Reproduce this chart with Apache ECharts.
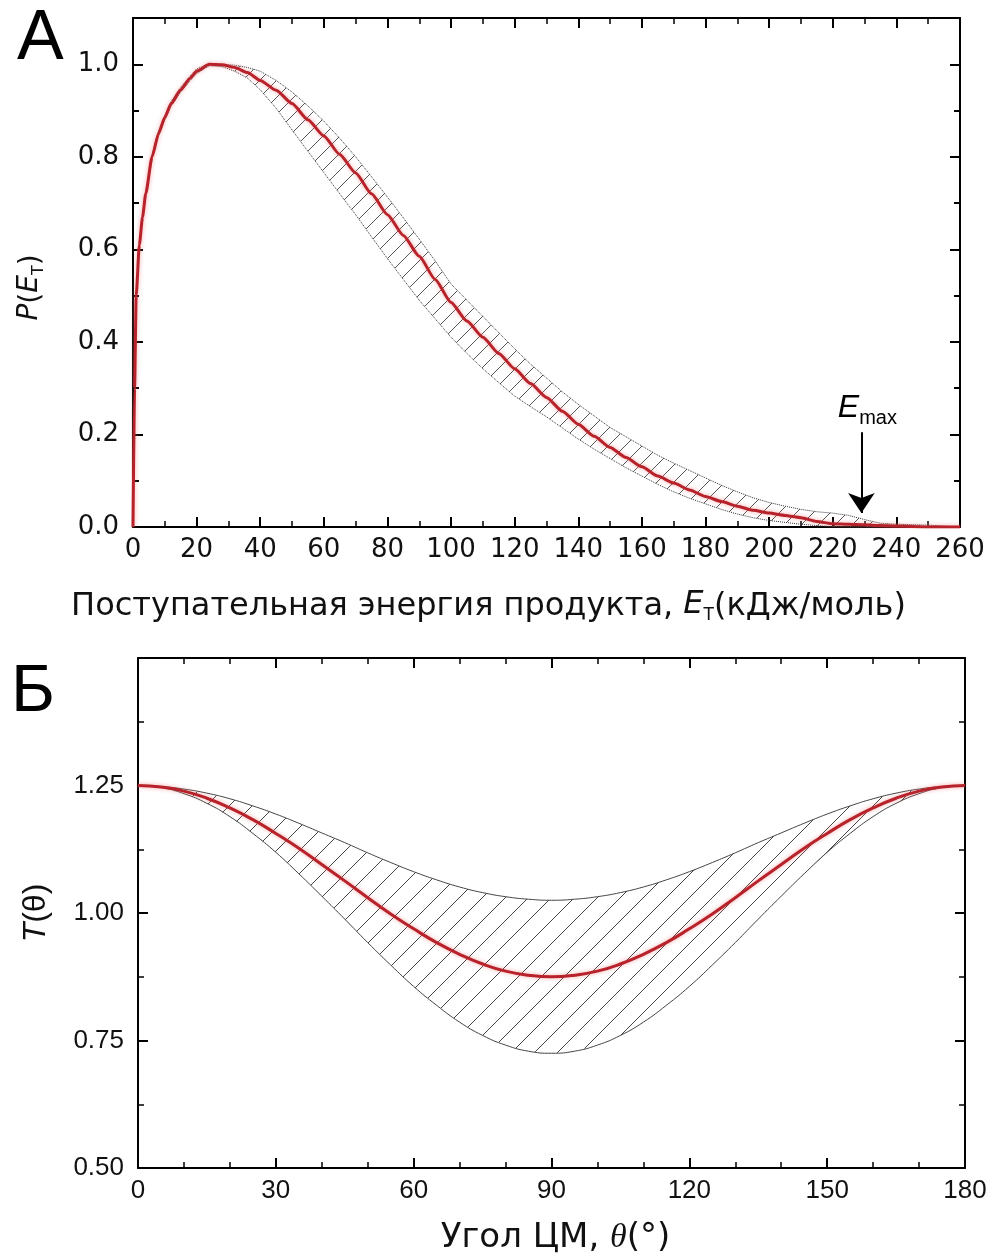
<!DOCTYPE html>
<html>
<head>
<meta charset="utf-8">
<script src="https://cdn.jsdelivr.net/npm/echarts@6/dist/echarts.min.js"></script>
<style>
  html, body { margin: 0; padding: 0; background: #fff; }
  #chart { width: 995px; height: 1258px; }
</style>
</head>
<body>
<div id="chart"></div>
<script>
// panel A: translational energy distribution P(E_T)
const energy = [0, 0.5, 1, 2, 3, 4, 6, 8, 10, 12, 15, 18, 20, 24, 28, 32, 36, 40,
  45, 50, 55, 60, 65, 70, 75, 80, 85, 90, 95, 100, 105, 110, 115, 120, 125, 130,
  135, 140, 145, 150, 155, 160, 165, 170, 175, 180, 185, 190, 195, 200, 205, 210,
  215, 220, 225, 230, 235, 240, 250, 260]
const pFit = [0, 0.3, 0.5, 0.61, 0.67, 0.72, 0.8, 0.85, 0.885, 0.915, 0.945, 0.97, 0.985, 1.0, 0.999, 0.993, 0.982, 0.965,
  0.944, 0.915, 0.88, 0.845, 0.805, 0.765, 0.72, 0.675, 0.63, 0.585, 0.535, 0.485, 0.445, 0.41, 0.375, 0.342, 0.31, 0.28,
  0.25, 0.222, 0.196, 0.172, 0.15, 0.13, 0.11, 0.095, 0.08, 0.066, 0.055, 0.045, 0.036, 0.03, 0.025, 0.02,
  0.012, 0.007, 0.006, 0.005, 0.003, 0.002, 0, 0]
const pUpper = [0, 0.3, 0.5, 0.615, 0.675, 0.725, 0.805, 0.855, 0.89, 0.92, 0.95, 0.975, 0.99, 1.0, 1.0, 0.998, 0.993, 0.985,
  0.965, 0.94, 0.91, 0.877, 0.84, 0.8, 0.757, 0.713, 0.668, 0.622, 0.575, 0.525, 0.49, 0.455, 0.42, 0.385, 0.352, 0.322,
  0.292, 0.265, 0.24, 0.215, 0.195, 0.175, 0.155, 0.138, 0.122, 0.106, 0.09, 0.076, 0.063, 0.053, 0.045, 0.038,
  0.033, 0.03, 0.025, 0.016, 0.008, 0.006, 0.004, 0]
const pLower = [0, 0.29, 0.49, 0.605, 0.665, 0.715, 0.795, 0.845, 0.88, 0.91, 0.94, 0.965, 0.98, 0.997, 0.995, 0.985, 0.97, 0.945,
  0.905, 0.858, 0.812, 0.766, 0.72, 0.675, 0.627, 0.58, 0.535, 0.49, 0.45, 0.41, 0.375, 0.342, 0.312, 0.283, 0.26, 0.238,
  0.214, 0.19, 0.168, 0.148, 0.128, 0.11, 0.092, 0.076, 0.062, 0.05, 0.038, 0.028, 0.02, 0.014, 0.01, 0.006,
  0.003, 0.001, 0, 0, 0, 0, 0, 0]
const eMax = 229

// panel B: angular distribution T(theta)
const theta = [0, 5, 10, 15, 20, 25, 30, 35, 40, 45, 50, 55, 60, 65, 70, 75, 80, 85, 90,
  95, 100, 105, 110, 115, 120, 125, 130, 135, 140, 145, 150, 155, 160, 165, 170, 175, 180]
const tFit = [1.25, 1.247, 1.239, 1.225, 1.206, 1.183, 1.156, 1.127, 1.095, 1.063, 1.03, 0.998, 0.969, 0.942, 0.919, 0.9, 0.886, 0.878, 0.875,
  0.878, 0.886, 0.9, 0.919, 0.942, 0.969, 0.998, 1.03, 1.063, 1.095, 1.127, 1.156, 1.183, 1.206, 1.225, 1.239, 1.247, 1.25]
const tUpper = [1.25, 1.248, 1.243, 1.235, 1.224, 1.21, 1.194, 1.176, 1.157, 1.138, 1.118, 1.099, 1.081, 1.065, 1.051, 1.04, 1.032, 1.027, 1.025,
  1.027, 1.032, 1.04, 1.051, 1.065, 1.081, 1.099, 1.118, 1.138, 1.157, 1.176, 1.194, 1.21, 1.224, 1.235, 1.243, 1.248, 1.25]
const tLower = [1.25, 1.246, 1.234, 1.215, 1.189, 1.156, 1.119, 1.077, 1.033, 0.988, 0.942, 0.898, 0.856, 0.819, 0.786, 0.76, 0.741, 0.729, 0.725,
  0.729, 0.741, 0.76, 0.786, 0.819, 0.856, 0.898, 0.942, 0.988, 1.033, 1.077, 1.119, 1.156, 1.189, 1.215, 1.234, 1.246, 1.25]

const RED = '#b8232b'
const FONT_A = 'DejaVu Sans'
const FONT_B = 'Liberation Sans'

function pairs(xs, ys) {
  return xs.map((x, i) => [x, ys[i]])
}

// diagonal hatch tile for the confidence bands
function hatch(size, color) {
  const c = document.createElement('canvas')
  c.width = size
  c.height = size
  const ctx = c.getContext('2d')
  ctx.strokeStyle = color
  ctx.lineWidth = 1
  ctx.beginPath()
  ctx.moveTo(0, size); ctx.lineTo(size, 0)
  ctx.moveTo(-2, 2); ctx.lineTo(2, -2)
  ctx.moveTo(size - 2, size + 2); ctx.lineTo(size + 2, size - 2)
  ctx.stroke()
  return c
}

// hatched polygon between two curves, placed with the axis scales
function band(xAxisIndex, yAxisIndex, xs, hi, lo, tile) {
  return {
    type: 'custom', coordinateSystem: 'cartesian2d', xAxisIndex: xAxisIndex, yAxisIndex: yAxisIndex,
    data: [[xs[0], hi[0]]], silent: true, clip: true, z: 1,
    renderItem: function (params, api) {
      const pts = []
      for (let i = 0; i < xs.length; i++) pts.push(api.coord([xs[i], hi[i]]))
      for (let i = xs.length - 1; i >= 0; i--) pts.push(api.coord([xs[i], lo[i]]))
      return {
        type: 'polygon', shape: { points: pts },
        style: { fill: { image: tile, repeat: 'repeat' }, stroke: null }
      }
    }
  }
}

function xAx(grid, min, max, interval, minorSplit, position, font) {
  return {
    type: 'value', gridIndex: grid, position: position, min: min, max: max, interval: interval,
    axisLine: { show: true, onZero: false, lineStyle: { color: '#000', width: 2 } },
    axisTick: { show: true, inside: true, length: 10, lineStyle: { color: '#000', width: 2 } },
    minorTick: { show: true, splitNumber: minorSplit, length: 6, lineStyle: { color: '#000', width: 1.5 } },
    splitLine: { show: false },
    axisLabel: { show: position === 'bottom', fontSize: 26, color: '#111', margin: 10, fontFamily: font }
  }
}
function yAx(grid, min, max, interval, minorSplit, position, tickLen, showLine, labelFmt, font) {
  return {
    type: 'value', gridIndex: grid, position: position, min: min, max: max, interval: interval,
    axisLine: { show: showLine, onZero: false, lineStyle: { color: '#000', width: 2 } },
    axisTick: { show: true, inside: true, length: tickLen, lineStyle: { color: '#000', width: 2 } },
    minorTick: { show: minorSplit > 0, splitNumber: minorSplit || 1, length: 6, lineStyle: { color: '#000', width: 1.5 } },
    splitLine: { show: false },
    axisLabel: {
      show: !!labelFmt, fontSize: 26, color: '#111', margin: 14, fontFamily: font,
      showMaxLabel: false, formatter: labelFmt ? (v) => labelFmt(v) : undefined
    }
  }
}

const chart = echarts.init(document.getElementById('chart'))

const yA = yAx(0, 0, 1.1, 0.2, 0, 'left', 10, true, (v) => v.toFixed(1), FONT_A)
yA.name = '{i|P}({i|E}{s|T})'
yA.nameLocation = 'middle'
yA.nameRotate = 90
yA.nameGap = 86
yA.nameTextStyle = {
  fontSize: 28, color: '#111', fontFamily: FONT_A, padding: [0, 30, 0, 0],
  rich: {
    i: { fontSize: 28, fontStyle: 'italic', fontFamily: FONT_A, verticalAlign: 'top' },
    s: { fontSize: 16, fontFamily: FONT_A, padding: [15, 0, 0, 0], verticalAlign: 'top' }
  }
}

const yB = yAx(1, 0.5, 1.5, 0.25, 2, 'left', 10, true, (v) => v.toFixed(2), FONT_B)
yB.name = '{i|T}(θ)'
yB.nameLocation = 'middle'
yB.nameRotate = 90
yB.nameGap = 86
yB.nameTextStyle = {
  fontSize: 32, color: '#111', fontFamily: FONT_B,
  rich: { i: { fontSize: 32, fontStyle: 'italic', fontFamily: FONT_B } }
}

const xA = xAx(0, 0, 260, 20, 2, 'bottom', FONT_A)
xA.name = 'Поступательная энергия продукта, {i|E}{s|T}(кДж/моль)'
xA.nameLocation = 'middle'
xA.nameGap = 62
xA.nameTextStyle = {
  fontSize: 32, color: '#111', fontFamily: FONT_A, padding: [0, 116, 0, 0],
  rich: {
    i: { fontSize: 32, fontStyle: 'italic', fontFamily: FONT_A, verticalAlign: 'top' },
    s: { fontSize: 17, fontFamily: FONT_A, padding: [18, 0, 0, 0], verticalAlign: 'top' }
  }
}

const xB = xAx(1, 0, 180, 30, 3, 'bottom', FONT_B)
xB.name = 'Угол ЦМ, {t|θ}(°)'
xB.nameLocation = 'middle'
xB.nameGap = 53
xB.nameTextStyle = {
  fontSize: 34, color: '#111', fontFamily: FONT_A, padding: [0, 0, 0, 8],
  rich: { t: { fontSize: 34, fontStyle: 'italic', fontFamily: 'Liberation Serif' } }
}

chart.setOption({
  animation: false,
  backgroundColor: '#fff',
  grid: [
    { left: 133, top: 18, width: 827, height: 509 },
    { left: 138, top: 658, width: 827, height: 510 }
  ],
  xAxis: [
    xA,
    xAx(0, 0, 260, 20, 2, 'top', FONT_A),
    xB,
    xAx(1, 0, 180, 30, 3, 'top', FONT_B)
  ],
  yAxis: [
    yA,
    yAx(0, 0, 1.1, 0.2, 0, 'right', 10, true, null, FONT_A),
    yAx(0, 0, 1.1, 0.1, 0, 'left', 6, false, null, FONT_A),
    yAx(0, 0, 1.1, 0.1, 0, 'right', 6, false, null, FONT_A),
    yB,
    yAx(1, 0.5, 1.5, 0.25, 2, 'right', 10, true, null, FONT_B)
  ],
  graphic: [
    { type: 'text', left: 17, top: 5, style: { text: 'А', fontSize: 70, fontFamily: FONT_B, fill: '#000' } },
    { type: 'text', left: 11, top: 659, style: { text: 'Б', fontSize: 67, fontFamily: FONT_B, fill: '#000' } }
  ],
  series: [
    band(0, 0, energy, pUpper, pLower, hatch(17, '#555')),
    {
      type: 'line', xAxisIndex: 0, yAxisIndex: 0, symbol: 'none',
      data: pairs(energy, pUpper),
      lineStyle: { color: '#333', width: 1, type: 'dotted' }, z: 2
    },
    {
      type: 'line', xAxisIndex: 0, yAxisIndex: 0, symbol: 'none',
      data: pairs(energy, pLower),
      lineStyle: { color: '#333', width: 1, type: 'dotted' }, z: 2
    },
    {
      type: 'line', xAxisIndex: 0, yAxisIndex: 0, symbol: 'none', smooth: 0.2, smoothMonotone: 'x',
      data: pairs(energy, pFit),
      lineStyle: { color: RED, width: 3, shadowColor: 'rgba(240,110,110,0.6)', shadowBlur: 4 }, z: 5,
      markLine: {
        silent: true, symbol: ['none', 'arrow'], symbolSize: 20,
        lineStyle: { color: '#000', width: 2, type: 'solid' },
        label: {
          show: true, position: 'start', distance: 4, formatter: '{e|E}{m|max}', padding: [0, 0, 0, 12],
          rich: {
            e: { fontSize: 32, fontStyle: 'italic', fontFamily: FONT_B, color: '#000', verticalAlign: 'top' },
            m: { fontSize: 20, fontFamily: FONT_B, color: '#000', padding: [16, 0, 0, 0], verticalAlign: 'top' }
          }
        },
        data: [[{ coord: [eMax, 0.205] }, { coord: [eMax, 0.03] }]]
      }
    },
    band(2, 4, theta, tUpper, tLower, hatch(23, '#444')),
    {
      type: 'line', xAxisIndex: 2, yAxisIndex: 4, symbol: 'none', smooth: true,
      data: pairs(theta, tUpper),
      lineStyle: { color: '#444', width: 1 }, z: 2
    },
    {
      type: 'line', xAxisIndex: 2, yAxisIndex: 4, symbol: 'none', smooth: true,
      data: pairs(theta, tLower),
      lineStyle: { color: '#444', width: 1 }, z: 2
    },
    {
      type: 'line', xAxisIndex: 2, yAxisIndex: 4, symbol: 'none', smooth: true,
      data: pairs(theta, tFit),
      lineStyle: { color: RED, width: 3, shadowColor: 'rgba(240,110,110,0.6)', shadowBlur: 4 }, z: 5
    }
  ]
})
</script>
</body>
</html>
